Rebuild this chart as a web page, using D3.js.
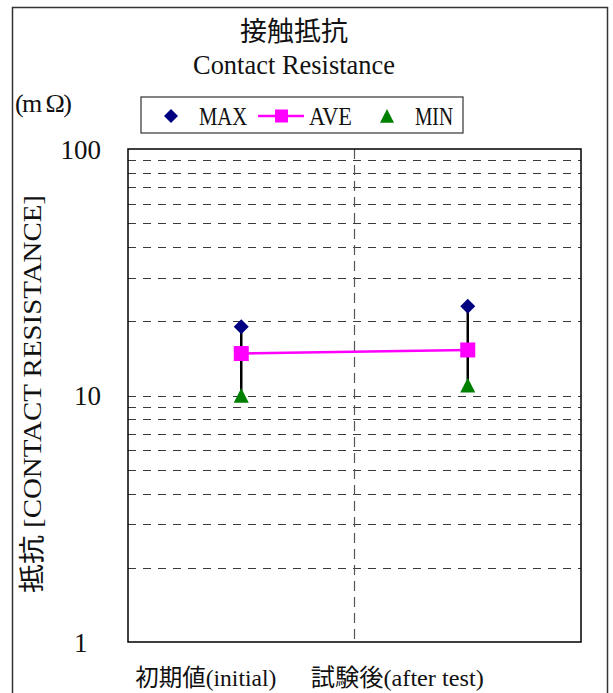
<!DOCTYPE html>
<html><head><meta charset="utf-8">
<script src="https://cdn.jsdelivr.net/npm/d3@7/dist/d3.min.js"></script>
<style>
body{margin:0;background:#fff;}
svg text{font-family:"Liberation Serif","Noto Sans CJK JP",serif;fill:#111;}
</style></head>
<body><svg id="c" width="613" height="693"></svg>
<script>
const categories = ["初期値(initial)", "試験後(after test)"];
const maxValues = [19, 23];
const aveValues = [14.8, 15.3];
const minValues = [10, 11];
const seriesNames = ["MAX", "AVE", "MIN"];
const tickValues = [1, 10, 100];
const tickLabels = ["1\u2002", "10", "100"];
const gridValues = [2,3,4,5,6,7,8,9,10,20,30,40,50,60,70,80,90];

const svg = d3.select("#c");
const plot = {left:128, right:581, top:149, bottom:642};

// outer frame
svg.append("rect").attr("x",12.5).attr("y",7.5).attr("width",595).attr("height",720)
  .attr("fill","none").attr("stroke","#333").attr("stroke-width",1.5);

const x = d3.scaleBand().domain(categories).range([plot.left, plot.right]);
const y = d3.scaleLog().domain([1,100]).range([plot.bottom, plot.top]);

// grid lines
svg.append("g").selectAll("line").data(gridValues).join("line")
  .attr("x1",plot.left).attr("x2",plot.right)
  .attr("y1",d=>Math.round(y(d))+0.5).attr("y2",d=>Math.round(y(d))+0.5)
  .attr("stroke","#3a3a3a").attr("stroke-width",1.2).attr("stroke-dasharray","8,7");

// vertical separator
const sepX = plot.left + x.bandwidth();
svg.append("line").attr("x1",sepX).attr("x2",sepX).attr("y1",plot.top).attr("y2",plot.bottom)
  .attr("stroke","#555").attr("stroke-width",1.2).attr("stroke-dasharray","10,6");

// plot frame
svg.append("rect").attr("x",plot.left).attr("y",plot.top)
  .attr("width",plot.right-plot.left).attr("height",plot.bottom-plot.top)
  .attr("fill","none").attr("stroke","#000").attr("stroke-width",1.5);

// y axis labels
const yAxis = d3.axisLeft(y).tickValues(tickValues).tickSize(0)
  .tickFormat((d,i)=>tickLabels[i]);
const ga = svg.append("g").attr("transform",`translate(${plot.left-24},0)`).call(yAxis);
ga.select(".domain").remove();
ga.selectAll("text").attr("font-size",27).attr("dy",null)
  .attr("dominant-baseline","central").attr("fill","#111")
  .style("font-family","'Liberation Serif',serif").style("white-space","pre");

// x labels
const labelShift = [-35.5, -70.5];
const labelW = [141, 173];
svg.append("g").selectAll("text").data(categories).join("text")
  .attr("x",(d,i)=>x(d)+x.bandwidth()/2+labelShift[i]).attr("y",686)
  .attr("text-anchor","middle").attr("font-size",24)
  .attr("textLength",(d,i)=>labelW[i]).attr("lengthAdjust","spacingAndGlyphs")
  .text(d=>d);

// error bars
const cx = d=>x(d)+x.bandwidth()/2;
svg.append("g").selectAll("line").data(categories).join("line")
  .attr("x1",cx).attr("x2",cx)
  .attr("y1",(d,i)=>y(minValues[i])).attr("y2",(d,i)=>y(maxValues[i]))
  .attr("stroke","#000").attr("stroke-width",2.5);

// AVE line
svg.append("path").datum(categories)
  .attr("d",d3.line().x(cx).y((d,i)=>y(aveValues[i])))
  .attr("fill","none").attr("stroke","#ff00ff").attr("stroke-width",2.5);

const diamond = s => `M0,${-s}L${s},0L0,${s}L${-s},0Z`;
const tri = s => `M0,${-s}L${s},${s*0.95}L${-s},${s*0.95}Z`;

svg.append("g").selectAll("path").data(categories).join("path")
  .attr("transform",(d,i)=>`translate(${cx(d)},${y(maxValues[i])})`)
  .attr("d",diamond(7.5)).attr("fill","#000080");
svg.append("g").selectAll("rect").data(categories).join("rect")
  .attr("x",d=>cx(d)-7.5).attr("y",(d,i)=>y(aveValues[i])-7.5)
  .attr("width",15).attr("height",15).attr("fill","#ff00ff");
svg.append("g").selectAll("path").data(categories).join("path")
  .attr("transform",(d,i)=>`translate(${cx(d)},${y(minValues[i])})`)
  .attr("d",tri(7.5)).attr("fill","#008000");

// titles
svg.append("text").attr("x",294).attr("y",41).attr("text-anchor","middle")
  .attr("font-size",27).text("接触抵抗");
svg.append("text").attr("x",294).attr("y",74).attr("text-anchor","middle")
  .attr("font-size",27).attr("textLength",202).attr("lengthAdjust","spacingAndGlyphs")
  .text("Contact Resistance");
svg.append("text").attr("x",15).attr("y",112)
  .attr("font-size",26).attr("textLength",57).attr("lengthAdjust","spacing")
  .text("(m Ω)");

// y title
svg.append("text").attr("transform","translate(41,394) rotate(-90)")
  .attr("text-anchor","middle").attr("font-size",26)
  .attr("textLength",398).attr("lengthAdjust","spacingAndGlyphs")
  .text("抵抗 [CONTACT RESISTANCE]");

// legend
const lg = svg.append("g");
lg.append("rect").attr("x",141).attr("y",97).attr("width",322).attr("height",36)
  .attr("fill","#fff").attr("stroke","#333").attr("stroke-width",1.2);
const ly = 116;
lg.append("path").attr("transform",`translate(171,${ly})`).attr("d",diamond(7)).attr("fill","#000080");
lg.append("line").attr("x1",258).attr("x2",304).attr("y1",ly).attr("y2",ly)
  .attr("stroke","#ff00ff").attr("stroke-width",2.5);
lg.append("rect").attr("x",275).attr("y",ly-6.5).attr("width",13).attr("height",13).attr("fill","#ff00ff");
lg.append("path").attr("transform",`translate(387,${ly})`).attr("d",tri(7)).attr("fill","#008000");
const legX = [199, 309, 415];
const legW = [48, 43, 38];
lg.selectAll("text.lt").data(seriesNames).join("text").attr("class","lt")
  .attr("x",(d,i)=>legX[i]).attr("y",124.5).attr("font-size",26)
  .attr("textLength",(d,i)=>legW[i]).attr("lengthAdjust","spacingAndGlyphs")
  .text(d=>d);
</script></body></html>
